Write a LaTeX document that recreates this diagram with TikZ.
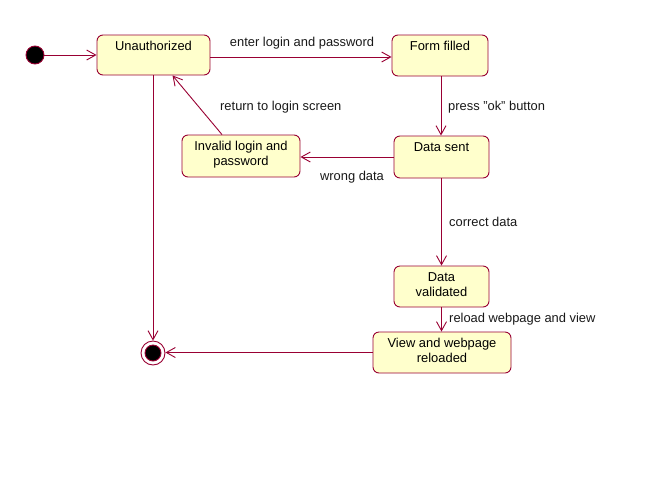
\documentclass[tikz,border=0pt]{standalone}
\usepackage{fontspec}
\setmainfont{Liberation Sans}
\usetikzlibrary{arrows.meta}
\definecolor{edge}{HTML}{990033}
\definecolor{statefill}{HTML}{FFFFCC}
\tikzset{
  state/.style={draw=edge, fill=statefill, rounded corners=6pt, line width=0.9pt, inner sep=0pt},
  stxt/.style={anchor=north, yshift=-5.5pt, align=center, inner sep=1pt, font=\fontsize{12.9}{15}\selectfont},
  tr/.style={draw=edge, line width=0.9pt, -{Straight Barb[length=9pt,width=10pt,line width=0.9pt]}},
  lbl/.style={font=\fontsize{12.9}{15}\selectfont, inner sep=0pt, text=black!90}
}
\begin{document}
\begin{tikzpicture}[x=1pt,y=-1pt]
\useasboundingbox (0,0) rectangle (655,477);
\fill[white] (0,0) rectangle (655,477);
% states
\node[state, minimum width=113pt, minimum height=40pt, label={[stxt]north:Unauthorized}] (unauth) at (153.5,55) {};
\node[state, minimum width=96pt, minimum height=41pt, label={[stxt]north:Form filled}] (form) at (440,55.5) {};
\node[state, minimum width=95pt, minimum height=42pt, label={[stxt]north:Data sent}] (sent) at (441.5,157) {};
\node[state, minimum width=118pt, minimum height=42pt, label={[stxt]north:Invalid login and\\password}] (invalid) at (241,156) {};
\node[state, minimum width=95pt, minimum height=41pt, label={[stxt]north:Data\\validated}] (valid) at (441.5,286.5) {};
\node[state, minimum width=138pt, minimum height=41pt, label={[stxt]north:View and webpage\\reloaded}] (view) at (442,352.5) {};
% pseudo states
\node[circle, draw=edge, fill=black, line width=0.9pt, minimum size=18pt, inner sep=0pt] (init) at (35,55) {};
\node[circle, draw=edge, fill=white, line width=0.9pt, minimum size=24pt, inner sep=0pt] (final) at (153,353) {};
\node[circle, draw=edge, fill=black, line width=0.9pt, minimum size=16pt, inner sep=0pt] (finalin) at (final) {};
% transitions
\draw[tr] (init) -- (unauth.west);
\draw[tr] ([yshift=-2pt]unauth.east) -- ([yshift=-2pt]unauth.east -| form.west);
\draw[tr] ([xshift=1pt]form.south) -- ([xshift=1pt]form.south |- sent.north);
\draw[tr] (sent.west) -- (sent.west -| invalid.east);
\draw[tr] ([xshift=-19pt]invalid.north) -- ([xshift=19pt]unauth.south);
\draw[tr] (sent.south) -- (valid.north);
\draw[tr] (valid.south) -- (valid.south |- view.north);
\draw[tr] (view.west) -- (view.west -| final.east);
\draw[tr] (unauth.south -| final.north) -- (final.north);
% labels
\node[lbl] (l1) at (302,43) {enter login and password};
\node[lbl, anchor=west] (l2) at (448,107) {press "ok" button};
\node[lbl, anchor=west] (l3) at (220,107) {return to login screen};
\node[lbl] (l4) at (352,177) {wrong data};
\node[lbl, anchor=west] (l5) at (449,222) {correct data};
\node[lbl, anchor=west] (l6) at (449,319) {reload webpage and view};
\end{tikzpicture}
\end{document}
